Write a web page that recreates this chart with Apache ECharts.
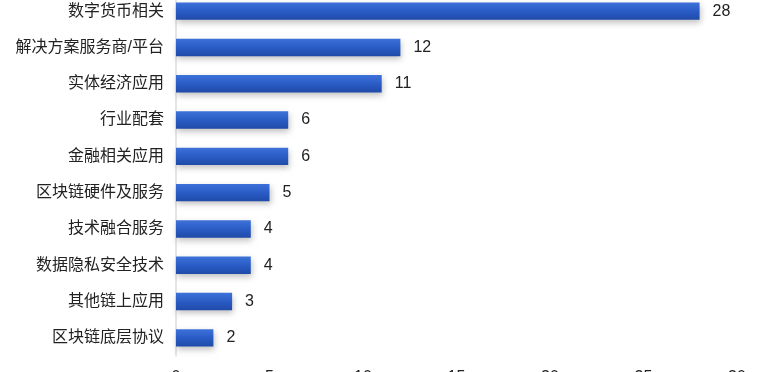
<!DOCTYPE html>
<html><head><meta charset="utf-8">
<script src="https://cdn.jsdelivr.net/npm/echarts@6/dist/echarts.min.js"></script>
<style>html,body{margin:0;padding:0;background:#fff}#c{width:760px;height:372px}</style>
</head><body><div id="c"></div>
<script>
const categories = ['数字货币相关','解决方案服务商/平台','实体经济应用','行业配套','金融相关应用','区块链硬件及服务','技术融合服务','数据隐私安全技术','其他链上应用','区块链底层协议'];
const values = [28,12,11,6,6,5,4,4,3,2];
const xTicks = [0,5,10,15,20,25,30];

const chart = echarts.init(document.getElementById('c'));
const font = '"Helvetica Neue", "Liberation Sans", "Noto Sans CJK SC", sans-serif';
chart.setOption({
  animation:false,
  grid:{left:176,right:23,top:-7,bottom:16,containLabel:false,outerBoundsMode:'none'},
  xAxis:{type:'value',min:xTicks[0],max:xTicks[xTicks.length-1],interval:5,
    axisLine:{show:false},axisTick:{show:false},splitLine:{show:false},
    axisLabel:{margin:14,fontSize:16,color:'#222',fontFamily:font}},
  yAxis:{type:'category',data:categories,inverse:true,
    axisLine:{show:true,lineStyle:{color:'#dcdcdc',width:1.5}},axisTick:{show:false},
    axisLabel:{margin:12,fontSize:16,color:'#222',fontFamily:font}},
  series:[{type:'bar',data:values,barWidth:'48%',
    itemStyle:{color:new echarts.graphic.LinearGradient(0,0,0,1,[
      {offset:0,color:'#3d72d9'},{offset:0.5,color:'#2a5cc6'},{offset:1,color:'#1f4aa8'}]),
      shadowColor:'rgba(0,0,0,0.25)',shadowBlur:6,shadowOffsetY:3,shadowOffsetX:1},
    label:{show:true,position:'right',distance:13,fontSize:16,color:'#222',fontFamily:font}}]
});
</script></body></html>
